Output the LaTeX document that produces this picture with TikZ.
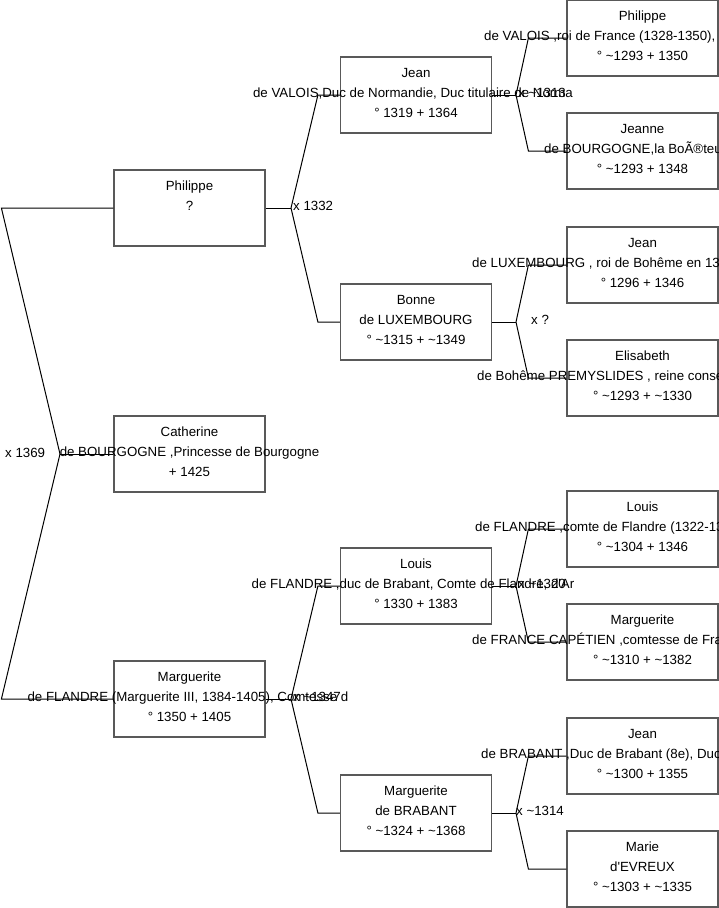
\documentclass[tikz,border=0pt]{standalone}
\usepackage{fontspec}
\setmainfont{Liberation Sans}[Ligatures=TeXOff]

\begin{document}
\begin{tikzpicture}[x=1pt, y=-1pt,
    card/.style={draw=black!65, line width=1.2pt, minimum width=151pt, minimum height=76pt, inner sep=0pt},
    txt/.style={font=\fontsize{13.3}{16}\selectfont, inner sep=0pt, anchor=base},
    longtxt/.style={txt, anchor=base west},
    wed/.style={txt, anchor=base west},
    link/.style={line width=1pt}]
            \useasboundingbox (0,0) rectangle (719,908);
            \clip (0,0) rectangle (719,908);

            % Generation 1
            \node[card] (philippe) at (189.5,208) {};
            \node[txt] (philippe-1) at (189.5,190) {Philippe};
            \node[txt] (philippe-2) at (189.5,210) {?};

            \node[card] (catherine) at (189.5,454) {};
            \node[txt] (catherine-1) at (189.5,436) {Catherine};
            \node[txt] (catherine-2) at (189.5,456) {de BOURGOGNE ,Princesse de Bourgogne};
            \node[txt] (catherine-3) at (189.5,476) {+ 1425};

            \node[card] (marguerite) at (189.5,699) {};
            \node[txt] (marguerite-1) at (189.5,681) {Marguerite};
            \node[txt] (marguerite-2) at (188,701) {de FLANDRE (Marguerite III, 1384-1405), Comtesse d};
            \node[txt] (marguerite-3) at (189.5,721) {° 1350 + 1405};

            % Generation 2
            \node[card] (jean) at (416,95) {};
            \node[txt] (jean-1) at (416,77) {Jean};
            \node[txt] (jean-2) at (413,97) {de VALOIS,Duc de Normandie, Duc titulaire de Norma};
            \node[txt] (jean-3) at (416,117) {° 1319 + 1364};

            \node[card] (bonne) at (416,322) {};
            \node[txt] (bonne-1) at (416,304) {Bonne};
            \node[txt] (bonne-2) at (416,324) {de LUXEMBOURG};
            \node[txt] (bonne-3) at (416,344) {° \textasciitilde1315 + \textasciitilde1349};

            \node[card] (louis) at (416,586) {};
            \node[txt] (louis-1) at (416,568) {Louis};
            \node[txt] (louis-2) at (413,588) {de FLANDRE ,duc de Brabant, Comte de Flandre, d'Ar};
            \node[txt] (louis-3) at (416,608) {° 1330 + 1383};

            \node[card] (margBrabant) at (416,813) {};
            \node[txt] (margBrabant-1) at (416,795) {Marguerite};
            \node[txt] (margBrabant-2) at (416,815) {de BRABANT};
            \node[txt] (margBrabant-3) at (416,835) {° \textasciitilde1324 + \textasciitilde1368};

            % Generation 3 (cut at the right edge)
            \node[card] (philippeVI) at (642.5,38) {};
            \node[txt] (philippeVI-1) at (642.5,20) {Philippe};
            \node[longtxt] (philippeVI-2) at (484,40) {de VALOIS ,roi de France (1328-1350),};
            \node[txt] (philippeVI-3) at (642.5,60) {° \textasciitilde1293 + 1350};

            \node[card] (jeanne) at (642.5,151) {};
            \node[txt] (jeanne-1) at (642.5,133) {Jeanne};
            \node[longtxt] (jeanne-2) at (544,153) {de BOURGOGNE,la BoÃ®teu};
            \node[txt] (jeanne-3) at (642.5,173) {° \textasciitilde1293 + 1348};

            \node[card] (jeanLux) at (642.5,265) {};
            \node[txt] (jeanLux-1) at (642.5,247) {Jean};
            \node[longtxt] (jeanLux-2) at (472,267) {de LUXEMBOURG , roi de Bohême en 13};
            \node[txt] (jeanLux-3) at (642.5,287) {° 1296 + 1346};

            \node[card] (elisabeth) at (642.5,378) {};
            \node[txt] (elisabeth-1) at (642.5,360) {Elisabeth};
            \node[longtxt] (elisabeth-2) at (477,380) {de Bohême PREMYSLIDES , reine conse};
            \node[txt] (elisabeth-3) at (642.5,400) {° \textasciitilde1293 + \textasciitilde1330};

            \node[card] (louisFl) at (642.5,529) {};
            \node[txt] (louisFl-1) at (642.5,511) {Louis};
            \node[longtxt] (louisFl-2) at (475,531) {de FLANDRE ,comte de Flandre (1322-13};
            \node[txt] (louisFl-3) at (642.5,551) {° \textasciitilde1304 + 1346};

            \node[card] (margFr) at (642.5,642) {};
            \node[txt] (margFr-1) at (642.5,624) {Marguerite};
            \node[longtxt] (margFr-2) at (472,644) {de FRANCE CAPÉTIEN ,comtesse de Fra};
            \node[txt] (margFr-3) at (642.5,664) {° \textasciitilde1310 + \textasciitilde1382};

            \node[card] (jeanBr) at (642.5,756) {};
            \node[txt] (jeanBr-1) at (642.5,738) {Jean};
            \node[longtxt] (jeanBr-2) at (481,758) {de BRABANT ,Duc de Brabant (8e), Duc};
            \node[txt] (jeanBr-3) at (642.5,778) {° \textasciitilde1300 + 1355};

            \node[card] (marie) at (642.5,869) {};
            \node[txt] (marie-1) at (642.5,851) {Marie};
            \node[txt] (marie-2) at (642.5,871) {d'EVREUX};
            \node[txt] (marie-3) at (642.5,891) {° \textasciitilde1303 + \textasciitilde1335};

            % Marriages
            \coordinate (m1369) at (60,454);
            \coordinate (m1332) at (291,208);
            \coordinate (m1347) at (291,699);
            \coordinate (m1313) at (516,95);
            \coordinate (mBonne) at (516,322);
            \coordinate (m1320) at (516,586);
            \coordinate (m1314) at (516,813);

            \node[wed] (w1369) at (5,457) {x 1369};
            \node[wed] (w1332) at (293,210) {x 1332};
            \node[wed] (w1347) at (293,701) {x \textasciitilde1347};
            \node[wed] (w1313) at (518,97) {x \textasciitilde1313};
            \node[wed] (wBonne) at (531,324) {x ?};
            \node[wed] (w1320) at (518,588) {x \textasciitilde1320};
            \node[wed] (w1314) at (516,815) {x \textasciitilde1314};

            % Connectors (drawn over the texts)
            \draw[link] (catherine.west) -- (m1369);
            \draw[link] (m1369) -- ([xshift=-112pt]philippe.west) -- (philippe.west);
            \draw[link] (m1369) -- ([xshift=-112pt]marguerite.west) -- (marguerite.west);

            \draw[link] (philippe.east) -- (m1332);
            \draw[link] (m1332) -- ([xshift=-22pt]jean.west) -- (jean.west);
            \draw[link] (m1332) -- ([xshift=-22pt]bonne.west) -- (bonne.west);

            \draw[link] (marguerite.east) -- (m1347);
            \draw[link] (m1347) -- ([xshift=-22pt]louis.west) -- (louis.west);
            \draw[link] (m1347) -- ([xshift=-22pt]margBrabant.west) -- (margBrabant.west);

            \draw[link] (jean.east) -- (m1313);
            \draw[link] (m1313) -- ([xshift=-38pt]philippeVI.west) -- (philippeVI.west);
            \draw[link] (m1313) -- ([xshift=-38pt]jeanne.west) -- (jeanne.west);

            \draw[link] (bonne.east) -- (mBonne);
            \draw[link] (mBonne) -- ([xshift=-38pt]jeanLux.west) -- (jeanLux.west);
            \draw[link] (mBonne) -- ([xshift=-38pt]elisabeth.west) -- (elisabeth.west);

            \draw[link] (louis.east) -- (m1320);
            \draw[link] (m1320) -- ([xshift=-38pt]louisFl.west) -- (louisFl.west);
            \draw[link] (m1320) -- ([xshift=-38pt]margFr.west) -- (margFr.west);

            \draw[link] (margBrabant.east) -- (m1314);
            \draw[link] (m1314) -- ([xshift=-38pt]jeanBr.west) -- (jeanBr.west);
            \draw[link] (m1314) -- ([xshift=-38pt]marie.west) -- (marie.west);
        \end{tikzpicture}
\end{document}
